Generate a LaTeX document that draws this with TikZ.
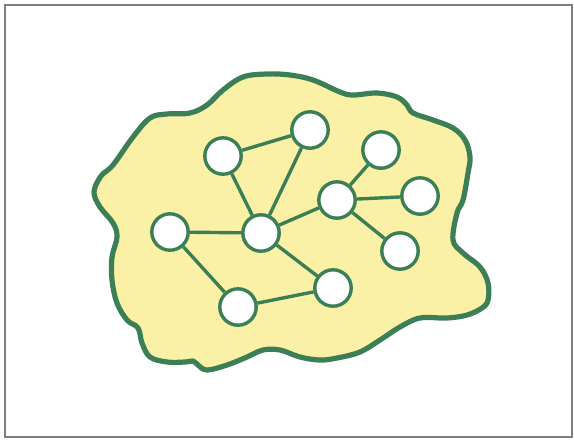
\documentclass[tikz,border=0pt]{standalone}
\usepackage{tikz}
\usetikzlibrary{backgrounds}
\definecolor{netgreen}{HTML}{3C7F57}
\definecolor{netyellow}{HTML}{FAF1A6}
\definecolor{netframe}{HTML}{7E7E7E}
\tikzset{
  vx/.style={circle, draw=netgreen, fill=white, line width=0.85mm, minimum size=9.1mm, inner sep=0pt},
  lnk/.style={draw=netgreen, line width=0.85mm},
  blob/.style={draw=netgreen, fill=netyellow, line width=1.3mm, line join=round},
  frm/.style={draw=netframe, line width=0.35mm},
}
\begin{document}
\begin{tikzpicture}[x=0.25mm, y=-0.25mm]
    \useasboundingbox (0,0) rectangle (574,439);
    \draw[frm] (5,5) rectangle (572,437);
    % the region
    \draw[blob] plot[smooth cycle, tension=0.6] coordinates {
      (267,74) (290,75) (313,80) (340,92) (353,95) (377,93) (397,97) (407,105)
      (413,113) (433,120) (453,128) (465,140) (470,157) (468,173) (463,200)
      (457,213) (453,240) (463,253) (480,267) (488,283) (488,300) (482,308)
      (467,315) (447,318) (420,318) (400,327) (380,340) (360,352) (337,358)
      (320,360) (300,357) (280,350) (263,350) (247,357) (227,365) (207,370)
      (198,365) (193,361) (185,362) (167,362) (150,357) (142,343) (138,328)
      (127,320) (117,303) (112,280) (112,257) (117,237) (113,223) (100,207)
      (94,192) (101,176) (113,165) (133,137) (150,118) (167,114) (190,113)
      (207,105) (223,90) (243,77)};
    % nodes
    \node[vx] (nw) at (223,156) {};
    \node[vx] (n) at (310,130) {};
    \node[vx] (ne) at (381,150) {};
    \node[vx] (hub) at (337,200) {};
    \node[vx] (e) at (420,196) {};
    \node[vx] (se) at (400,251) {};
    \node[vx] (w) at (170,232) {};
    \node[vx] (mid) at (261,233) {};
    \node[vx] (sm) at (333,288) {};
    \node[vx] (s) at (238,307) {};
    % links
    \draw[lnk] (nw) -- (n);
    \draw[lnk] (nw) -- (mid);
    \draw[lnk] (n) -- (mid);
    \draw[lnk] (w) -- (mid);
    \draw[lnk] (mid) -- (hub);
    \draw[lnk] (w) -- (s);
    \draw[lnk] (mid) -- (sm);
    \draw[lnk] (s) -- (sm);
    \draw[lnk] (hub) -- (ne);
    \draw[lnk] (hub) -- (e);
    \draw[lnk] (hub) -- (se);
  \end{tikzpicture}
\end{document}
